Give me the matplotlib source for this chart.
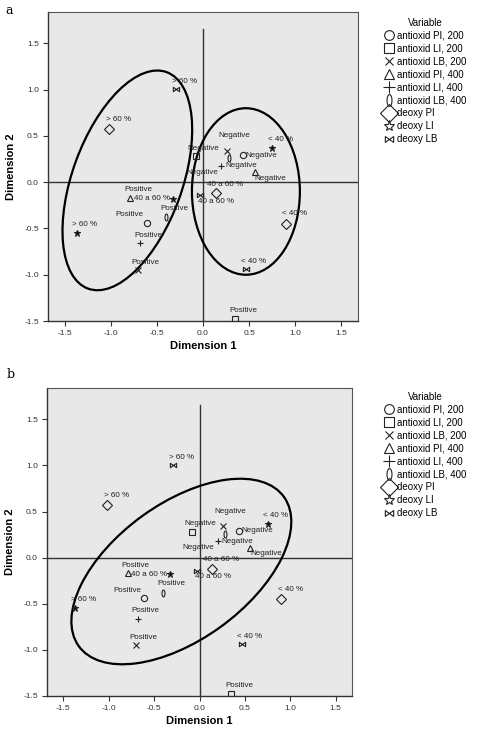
import numpy as np
import matplotlib
matplotlib.use("Agg")
import matplotlib.pyplot as plt
from matplotlib.patches import Ellipse
from matplotlib.path import Path
from matplotlib.lines import Line2D

plt.rcParams['font.family'] = ['Liberation Sans', 'DejaVu Sans']

# variables shown in the legend
variables = ["antioxid PI, 200", "antioxid LI, 200", "antioxid LB, 200",
             "antioxid PI, 400", "antioxid LI, 400", "antioxid LB, 400",
             "deoxy PI", "deoxy LI", "deoxy LB"]

# category labels of each variable
categories = [["Negative", "Positive"]] * 6 + [["< 40 %", "40 a 60 %", "> 60 %"]] * 3

# category quantifications (dimension 1, dimension 2)
dim1 = [[0.43, -0.61], [-0.08, 0.35], [0.26, -0.70],
        [0.56, -0.79], [0.20, -0.68], [0.28, -0.40],
        [0.90, 0.14, -1.02], [0.75, -0.32, -1.37], [0.47, -0.03, -0.29]]
dim2 = [[0.29, -0.44], [0.28, -1.48], [0.34, -0.95],
        [0.11, -0.17], [0.18, -0.66], [0.26, -0.38],
        [-0.45, -0.12, 0.57], [0.37, -0.18, -0.55], [-0.94, -0.14, 1.01]]

# grouping ellipses drawn on each panel: centre x, centre y, width, height, angle
ellipses_a = [(-0.82, 0.02, 2.49, 1.19, 70.0), (0.465, -0.10, 1.17, 1.80, 0.0)]
ellipses_b = [(-0.20, -0.15, 2.78, 1.48, 35.4)]

# markers
t = np.linspace(0, 2 * np.pi, 60)
oval = Path(np.column_stack([0.42 * np.cos(t), np.sin(t)]))
bowtie = Path([(-1, -0.7), (-1, 0.7), (1, -0.7), (1, 0.7), (-1, -0.7)],
              [Path.MOVETO, Path.LINETO, Path.LINETO, Path.LINETO, Path.CLOSEPOLY])
markers = ['o', 's', 'x', '^', '+', oval, 'D', '*', bowtie]
msize = [4.5, 4.5, 4, 4.5, 5, 5, 5, 4.5, 4.5]
lsize = [7, 7.5, 6, 7, 9, 8.5, 9, 8, 6]

# label offsets in pixels (dx, dy, ha) for each point
offsets = [[(3, 0, 'left'), (-17, 8, 'center')],
           [(8, 8, 'center'), (8, 9, 'center')],
           [(7, 15, 'center'), (7, 8, 'center')],
           [(16, -6, 'center'), (8, 8, 'center')],
           [(4, 0, 'left'), (8, 8, 'center')],
           [(-27, -14, 'center'), (8, 9, 'center')],
           [(9, 10, 'center'), (9, 9, 'center'), (10, 10, 'center')],
           [(8, 8, 'center'), (-3, 0, 'right'), (8, 9, 'center')],
           [(7, 8, 'center'), (16, -6, 'center'), (8, 7, 'center')]]

fig = plt.figure(figsize=(4.9, 7.32), dpi=100)
W, H = 490.0, 732.0
ax_a = fig.add_axes([48 / W, 1 - 321 / H, 310 / W, 309 / H])
ax_b = fig.add_axes([47 / W, 1 - 696 / H, 305 / W, 308 / H])


def draw_panel(ax, ells):
    ax.set_facecolor('#e8e8e8')
    ax.set_xlim(-1.68, 1.68)
    ax.set_ylim(-1.5, 1.84)
    ax.axhline(0, color='#333333', lw=1.0, zorder=1)
    ax.plot([0, 0], [-1.5, 1.66], color='#333333', lw=1.0, zorder=1)
    for i in range(len(variables)):
        filled = markers[i] == '*'
        ax.plot(dim1[i], dim2[i], ls='none', marker=markers[i], ms=msize[i],
                mfc='k' if filled else 'none', mec='#222222', mew=0.8, zorder=3)
        for j, cat in enumerate(categories[i]):
            dx, dy, ha = offsets[i][j]
            ax.annotate(cat, (dim1[i][j], dim2[i][j]), xytext=(dx, dy),
                        textcoords='offset pixels', ha=ha, va='center',
                        fontsize=5.8, color='#222222', zorder=4)
    for cx, cy, w, h, ang in ells:
        ax.add_patch(Ellipse((cx, cy), w, h, angle=ang, fill=False,
                             ec='black', lw=1.6, zorder=2))
    ticks = [-1.5, -1.0, -0.5, 0.0, 0.5, 1.0, 1.5]
    ax.set_xticks(ticks)
    ax.set_yticks(ticks)
    ax.set_xticklabels(['%.1f' % v for v in ticks])
    ax.set_yticklabels(['%.1f' % v for v in ticks])
    ax.tick_params(labelsize=6, length=3.5, width=0.8, pad=3, colors='#333333')
    ax.set_xlabel('Dimension 1', fontsize=8, fontweight='bold', labelpad=3)
    ax.set_ylabel('Dimension 2', fontsize=8, fontweight='bold', labelpad=6)
    for side in ['left', 'bottom']:
        ax.spines[side].set_color('#333333')
        ax.spines[side].set_linewidth(1.0)
    for side in ['top', 'right']:
        ax.spines[side].set_color('#555555')
        ax.spines[side].set_linewidth(0.8)


draw_panel(ax_a, ellipses_a)
draw_panel(ax_b, ellipses_b)

handles = [Line2D([], [], ls='none', marker=markers[i], ms=lsize[i], mfc='none',
                  mec='#222222', mew=0.8) for i in range(len(variables))]
for top in [13, 387]:
    fig.legend(handles, variables, title='Variable', loc='upper left',
               bbox_to_anchor=(379 / W, 1 - top / H), frameon=False,
               fontsize=7, title_fontsize=7, handlelength=1.0,
               handletextpad=0.35, labelspacing=0.3, borderpad=0)

fig.text(5 / W, 1 - 4 / H, 'a', family='DejaVu Serif', fontsize=9, va='top')
fig.text(7 / W, 1 - 368 / H, 'b', family='DejaVu Serif', fontsize=9, va='top')

fig.savefig('out.png', dpi=100)
